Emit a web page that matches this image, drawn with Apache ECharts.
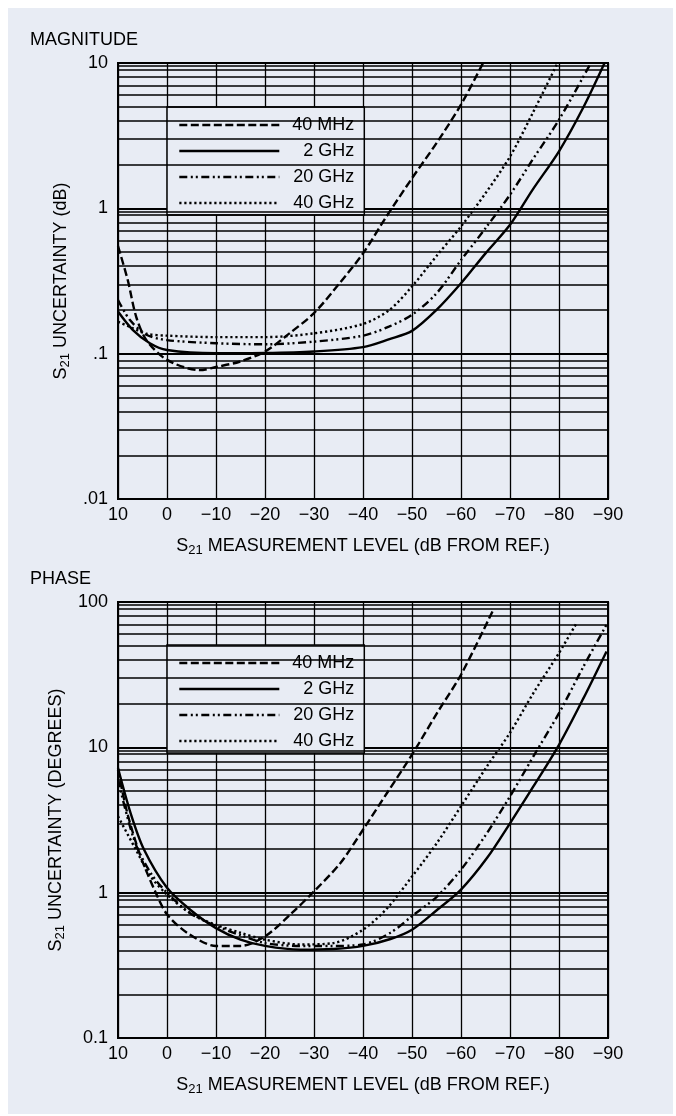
<!DOCTYPE html>
<html>
<head>
<meta charset="utf-8">
<script src="https://cdn.jsdelivr.net/npm/echarts@6/dist/echarts.min.js"></script>
<style>
html,body{margin:0;padding:0;background:#fff;}
#c{width:676px;height:1116px;}
</style>
</head>
<body>
<div id="c"></div>
<script>
// ---------- data ----------
const seriesNames = ['40 MHz', '2 GHz', '20 GHz', '40 GHz'];
const xTicks = [10, 0, -10, -20, -30, -40, -50, -60, -70, -80, -90];
const magTickLabels = {'-2': '.01', '-1': '.1', '0': '1', '1': '10'};
const phaseTickLabels = {'-1': '0.1', '0': '1', '1': '10', '2': '100'};
const minorMultipliers = [2, 3, 4, 5, 6, 7, 8, 9, 9.5];
const magDecades = [0.01, 0.1, 1];
const phaseDecades = [0.1, 1, 10];

// Magnitude (dB)
const mag40MHzX = [10, 8, 6.3, 4.2, 0, -6.7, -10, -14.8, -20, -25, -30, -35.2, -40, -44.8, -50, -55, -60, -64.5];
const mag40MHzY = [0.55, 0.32, 0.18, 0.124, 0.0906, 0.077, 0.081, 0.088, 0.1035, 0.138, 0.19, 0.305, 0.49, 0.88, 1.61, 2.81, 5.17, 10];
const mag2GHzX = [10, 7, 3.5, 0, -10, -20, -30, -40, -45.4, -50, -55, -60, -65, -70, -74.6, -80, -84.9, -89.3];
const mag2GHzY = [0.195, 0.146, 0.118, 0.106, 0.1006, 0.101, 0.1035, 0.111, 0.126, 0.1435, 0.2, 0.305, 0.49, 0.77, 1.34, 2.47, 4.9, 10];
const mag20GHzX = [10, 7.6, 4.2, 0, -10, -20, -30, -40, -45.4, -50, -55, -60, -65, -70, -74.6, -80, -86.5];
const mag20GHzY = [0.234, 0.171, 0.135, 0.124, 0.118, 0.116, 0.121, 0.133, 0.154, 0.185, 0.26, 0.44, 0.73, 1.24, 2.16, 4.07, 10];
const mag40GHzX = [10, 7, 4.2, 0, -10, -20, -30, -40, -45.4, -50, -55, -60, -65, -70, -74.6, -79.7];
const mag40GHzY = [0.166, 0.15, 0.137, 0.133, 0.13, 0.13, 0.138, 0.16, 0.2, 0.29, 0.47, 0.75, 1.27, 2.27, 4.5, 10];

// Phase (degrees)
const ph40MHzX = [10, 8.1, 5.4, 2.3, 0, -4.1, -10, -15, -20, -25.2, -30, -35.4, -40, -44.9, -50, -55.1, -60, -66.6];
const ph40MHzY = [7.0, 3.53, 1.78, 1.0, 0.71, 0.53, 0.43, 0.43, 0.50, 0.71, 1.02, 1.6, 2.71, 4.85, 8.9, 17.2, 31.6, 88.6];
const ph2GHzX = [10, 7.4, 4.7, 0, -4.8, -10, -15, -20, -27.2, -34, -40, -45.6, -50, -55.1, -60, -65.3, -70, -74.8, -80, -85, -89.7];
const ph2GHzY = [7.2, 3.5, 1.98, 1.08, 0.76, 0.57, 0.475, 0.43, 0.405, 0.41, 0.43, 0.48, 0.556, 0.76, 1.05, 1.73, 3.0, 5.4, 10.4, 21.8, 45.7];
const ph20GHzX = [10, 6.7, 3.3, 0, -4.8, -10, -15, -20, -27.2, -34, -40, -45.6, -50, -55.1, -60, -65.3, -70, -74.8, -80, -85, -89.7];
const ph20GHzY = [6.0, 2.3, 1.36, 1.0, 0.72, 0.59, 0.51, 0.45, 0.43, 0.43, 0.44, 0.53, 0.69, 0.94, 1.44, 2.57, 4.6, 8.7, 17.2, 36, 69.8];
const ph40GHzX = [10, 6.7, 3.3, 0, -4.8, -10, -15, -20, -27.2, -34, -40, -44.9, -50, -55.1, -60, -65.3, -70, -74.8, -80, -83.6];
const ph40GHzY = [3.35, 2.08, 1.29, 0.97, 0.72, 0.6, 0.53, 0.475, 0.44, 0.45, 0.556, 0.78, 1.29, 2.2, 3.93, 7.4, 12.6, 23.7, 44.6, 71.8];

// ---------- build ----------
const FONT = '"Liberation Sans", Arial, Helvetica, sans-serif';
const BG = '#e8ecf4';
const zip = (xs, ys) => xs.map((x, i) => [x, ys[i]]);
const styles = {
  '40 MHz': [8, 3.5],
  '2 GHz': 'solid',
  '20 GHz': [8, 3.5, 2, 3, 2, 3.5],
  '40 GHz': [2.2, 2.8]
};
const magData = {'40 MHz': zip(mag40MHzX, mag40MHzY), '2 GHz': zip(mag2GHzX, mag2GHzY), '20 GHz': zip(mag20GHzX, mag20GHzY), '40 GHz': zip(mag40GHzX, mag40GHzY)};
const phData = {'40 MHz': zip(ph40MHzX, ph40MHzY), '2 GHz': zip(ph2GHzX, ph2GHzY), '20 GHz': zip(ph20GHzX, ph20GHzY), '40 GHz': zip(ph40GHzX, ph40GHzY)};

function minorLines(decades) {
  const out = [];
  decades.forEach(d => minorMultipliers.forEach(m => out.push({yAxis: +(d * m).toPrecision(6)})));
  return out;
}

const subRich = {
  m: {fontSize: 18, lineHeight: 22, fontFamily: FONT, color: '#000'},
  s: {fontSize: 13, lineHeight: 13, fontFamily: FONT, color: '#000', verticalAlign: 'bottom'}
};

function xAxis(gi) {
  return {
    gridIndex: gi, type: 'value', min: -90, max: 10, interval: 10, inverse: true,
    axisLine: {show: false}, axisTick: {show: false},
    splitLine: {show: true, lineStyle: {color: '#000', width: 1.3}},
    axisLabel: {fontSize: 18, fontFamily: FONT, color: '#000', margin: 7,
      formatter: v => v < 0 ? '\u2212' + (-v) : String(v)},
    name: '{m|S}{s|21}{m| MEASUREMENT LEVEL (dB FROM REF.)}',
    nameLocation: 'middle', nameGap: 36,
    nameTextStyle: {rich: subRich}
  };
}
function yAxis(gi, min, max, labels, nameTxt) {
  return {
    gridIndex: gi, type: 'log', logBase: 10, min: min, max: max,
    axisLine: {show: false}, axisTick: {show: false},
    splitLine: {show: true, lineStyle: {color: '#000', width: 2}},
    axisLabel: {fontSize: 18, fontFamily: FONT, color: '#000', margin: 10,
      formatter: v => labels[String(Math.round(Math.log10(v)))] || ''},
    name: '{m|S}{s|21}{m| ' + nameTxt + '}',
    nameLocation: 'middle', nameGap: 37,
    nameTextStyle: {rich: subRich}
  };
}

const series = [];
[[0, magDecades], [1, phaseDecades]].forEach(([gi, dec]) => {
  series.push({
    name: 'grid' + gi, type: 'line', xAxisIndex: gi, yAxisIndex: gi, data: [], silent: true,
    markLine: {silent: true, symbol: ['none', 'none'], animation: false, label: {show: false},
      lineStyle: {color: '#000', type: 'solid', width: 1.5}, data: minorLines(dec)}
  });
});
[[0, magData], [1, phData]].forEach(([gi, dat]) => {
  seriesNames.forEach(n => {
    series.push({
      name: n, type: 'line', xAxisIndex: gi, yAxisIndex: gi, data: dat[n],
      smooth: 0.3, symbol: 'none', showSymbol: false, z: 5,
      lineStyle: {color: '#000', width: 2.4, type: styles[n], cap: 'butt'},
      itemStyle: {color: '#000'}
    });
  });
});

function legend(top, left) {
  return {
    data: seriesNames, orient: 'vertical', top: top, left: left,
    backgroundColor: BG, borderColor: '#000', borderWidth: 1.5,
    padding: [9, 10, 3, 11], itemGap: 8, itemWidth: 100, itemHeight: 14,
    selectedMode: false,
    itemStyle: {opacity: 0, borderWidth: 0},
    lineStyle: {width: 2.6, color: '#000'},
    formatter: n => '{r|' + n + '}',
    textStyle: {fontSize: 18, fontFamily: FONT, color: '#000',
      rich: {r: {width: 70, align: 'right', fontSize: 18, lineHeight: 18, fontFamily: FONT, color: '#000'}}}
  };
}

const option = {
  animation: false,
  backgroundColor: '#fff',
  graphic: [{type: 'rect', z: -10, silent: true, shape: {x: 8, y: 8, width: 665, height: 1106}, style: {fill: BG}}],
  title: [
    {text: 'MAGNITUDE', left: 30, top: 31, padding: 0, textStyle: {fontSize: 18, fontWeight: 'normal', fontFamily: FONT, color: '#000'}},
    {text: 'PHASE', left: 30, top: 570, padding: 0, textStyle: {fontSize: 18, fontWeight: 'normal', fontFamily: FONT, color: '#000'}}
  ],
  grid: [
    {left: 118, top: 63, width: 490, height: 436, show: true, borderColor: '#000', borderWidth: 2, backgroundColor: 'transparent'},
    {left: 118, top: 602, width: 490, height: 436, show: true, borderColor: '#000', borderWidth: 2, backgroundColor: 'transparent'}
  ],
  xAxis: [xAxis(0), xAxis(1)],
  yAxis: [yAxis(0, 0.01, 10, magTickLabels, 'UNCERTAINTY (dB)'), yAxis(1, 0.1, 100, phaseTickLabels, 'UNCERTAINTY (DEGREES)')],
  legend: [legend(107, 167), legend(645, 167)],
  series: series
};
const chart = echarts.init(document.getElementById('c'), null, {renderer: 'canvas'});
chart.setOption(option);
</script>
</body>
</html>
